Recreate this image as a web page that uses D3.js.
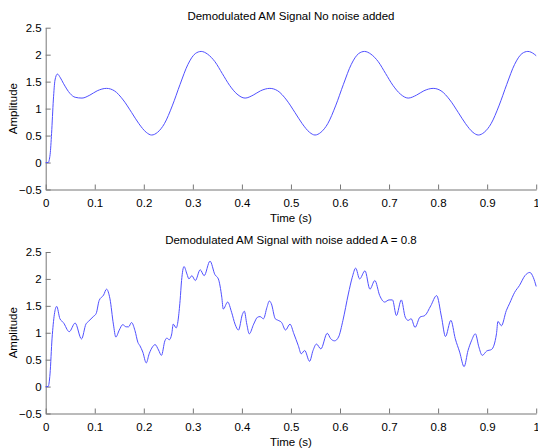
<!DOCTYPE html>
<html>
<head>
<meta charset="utf-8">
<script src="https://cdn.jsdelivr.net/npm/d3@7"></script>
<style>
  body { margin: 0; background: #fff; }
  svg { display: block; font-family: "Liberation Sans", Arial, sans-serif; }
</style>
</head>
<body>
<div id="chart"></div>
<script>
// Values (time in s, amplitude)
const cleanTime = [0, 0.005, 0.009, 0.012, 0.0156, 0.019, 0.0238, 0.03, 0.036, 0.0496, 0.06, 0.074,
  0.09, 0.105, 0.124, 0.14, 0.158, 0.175, 0.19, 0.205, 0.216, 0.228, 0.242, 0.258, 0.274, 0.29, 0.305,
  0.317, 0.33, 0.345, 0.36, 0.375, 0.39, 0.4065, 0.423, 0.438, 0.457, 0.473, 0.491, 0.508, 0.523, 0.538,
  0.549, 0.561, 0.575, 0.591, 0.607, 0.623, 0.638, 0.65, 0.663, 0.678, 0.693, 0.708, 0.723, 0.739,
  0.756, 0.771, 0.79, 0.806, 0.824, 0.841, 0.856, 0.871, 0.882, 0.894, 0.908, 0.924, 0.94, 0.956,
  0.971, 0.983, 0.996, 1.0];
const cleanAmp = [0, 0, 0.15, 0.54, 1.16, 1.53, 1.64, 1.57, 1.47, 1.28, 1.21, 1.195,
  1.25, 1.33, 1.375, 1.33, 1.16, 0.93, 0.72, 0.56, 0.51, 0.56, 0.72, 1.05, 1.45, 1.82, 2.02,
  2.06, 2.01, 1.87, 1.65, 1.43, 1.27, 1.195, 1.25, 1.33, 1.375, 1.33, 1.16, 0.93, 0.72, 0.56,
  0.51, 0.56, 0.72, 1.05, 1.45, 1.82, 2.02, 2.06, 2.01, 1.87, 1.65, 1.43, 1.27, 1.195,
  1.25, 1.33, 1.375, 1.33, 1.16, 0.93, 0.72, 0.56, 0.51, 0.56, 0.72, 1.05, 1.45, 1.82,
  2.02, 2.06, 2.01, 1.98];

const noisyTime = [0, 0.005, 0.0088, 0.013, 0.0224, 0.029, 0.036, 0.048, 0.06, 0.073, 0.082, 0.087,
  0.097, 0.103, 0.109, 0.118, 0.124, 0.131, 0.138, 0.143, 0.15, 0.157, 0.164, 0.169, 0.175, 0.182,
  0.188, 0.192, 0.198, 0.205, 0.211, 0.218, 0.223, 0.23, 0.236, 0.243, 0.247, 0.252, 0.257, 0.26,
  0.266, 0.274, 0.277, 0.282, 0.288, 0.292, 0.298, 0.305, 0.315, 0.323, 0.335, 0.345, 0.352, 0.359,
  0.362, 0.371, 0.379, 0.386, 0.393, 0.401, 0.405, 0.41, 0.415, 0.424, 0.432, 0.437, 0.444, 0.451,
  0.456, 0.46, 0.468, 0.474, 0.481, 0.489, 0.498, 0.506, 0.515, 0.521, 0.528, 0.538, 0.545, 0.552,
  0.561, 0.574, 0.581, 0.589, 0.597, 0.606, 0.617, 0.625, 0.632, 0.64, 0.651, 0.661, 0.671, 0.681,
  0.691, 0.7, 0.707, 0.715, 0.725, 0.733, 0.739, 0.745, 0.753, 0.763, 0.773, 0.785, 0.797, 0.807,
  0.815, 0.826, 0.835, 0.844, 0.853, 0.861, 0.868, 0.876, 0.883, 0.89, 0.899, 0.909, 0.919, 0.922,
  0.929, 0.939, 0.946, 0.956, 0.966, 0.977, 0.987, 0.994, 1.0];
const noisyAmp = [0, 0, 0.235, 0.9, 1.49, 1.26, 1.19, 1.02, 1.18, 0.885, 1.16, 1.21,
  1.30, 1.36, 1.60, 1.70, 1.81, 1.63, 1.16, 0.92, 1.05, 1.15, 1.11, 1.11, 1.19, 1.04,
  0.82, 0.76, 0.64, 0.44, 0.61, 0.74, 0.78, 0.68, 0.58, 0.85, 0.90, 0.87, 0.98, 1.16,
  1.09, 1.60, 1.97, 2.23, 2.09, 2.00, 2.06, 1.97, 2.17, 2.06, 2.33, 2.08, 2.00, 1.66,
  1.44, 1.57, 1.38, 1.16, 1.05, 1.34, 1.40, 1.16, 0.98, 1.16, 1.29, 1.30, 1.26, 1.47,
  1.59, 1.54, 1.26, 1.23, 1.19, 1.05, 1.16, 0.98, 0.76, 0.61, 0.67, 0.47, 0.67, 0.79,
  0.70, 0.99, 0.89, 0.85, 0.92, 1.23, 1.72, 2.03, 2.20, 2.00, 2.15, 1.81, 1.97, 1.69,
  1.57, 1.61, 1.61, 1.32, 1.61, 1.29, 1.23, 1.26, 1.10, 1.29, 1.32, 1.50, 1.69, 1.29,
  0.93, 1.23, 0.89, 0.64, 0.37, 0.67, 0.85, 0.98, 0.74, 0.58, 0.66, 0.69, 0.98, 1.21,
  1.13, 1.41, 1.55, 1.75, 1.88, 2.06, 2.12, 2.03, 1.86];

const xTicks = [0, 0.1, 0.2, 0.3, 0.4, 0.5, 0.6, 0.7, 0.8, 0.9, 1];
const yTicks = [-0.5, 0, 0.5, 1, 1.5, 2, 2.5];

const panels = [
  { title: "Demodulated AM Signal No noise added", t: cleanTime, y: cleanAmp, top: 27.7, bottom: 189.5 },
  { title: "Demodulated AM Signal with noise added A = 0.8", t: noisyTime, y: noisyAmp, top: 252, bottom: 413.5 }
];

const width = 538, height = 448;
const left = 45.7, right = 536.2;
const axisColor = "#777";

const svg = d3.select("#chart").append("svg")
  .attr("width", width)
  .attr("height", height);

panels.forEach(p => {
  const x = d3.scaleLinear().domain([0, 1]).range([left, right]);
  const y = d3.scaleLinear().domain([-0.5, 2.5]).range([p.bottom, p.top]);

  const g = svg.append("g");

  // x axis, ticks pointing inwards
  const xa = g.append("g")
    .attr("transform", `translate(0,${p.bottom})`)
    .call(d3.axisBottom(x).tickValues(xTicks).tickSizeInner(-5).tickSizeOuter(0)
      .tickFormat(d => d3.format("")(d)));
  xa.select(".domain").attr("stroke", axisColor);
  xa.selectAll(".tick line").attr("stroke", axisColor);
  xa.selectAll(".tick text").attr("y", 9).attr("dy", "0.71em")
    .attr("font-size", 11.5).attr("font-family", "Liberation Sans, Arial, sans-serif").attr("fill", "#000");

  // y axis
  const ya = g.append("g")
    .attr("transform", `translate(${left},0)`)
    .call(d3.axisLeft(y).tickValues(yTicks).tickSizeInner(-5).tickSizeOuter(0)
      .tickFormat(d => d3.format("")(d)));
  ya.select(".domain").attr("stroke", axisColor);
  ya.selectAll(".tick line").attr("stroke", axisColor);
  ya.selectAll(".tick text").attr("x", -4)
    .attr("font-size", 11.5).attr("font-family", "Liberation Sans, Arial, sans-serif").attr("fill", "#000");

  // signal line
  const pts = p.t.map((t, i) => [t, p.y[i]]);
  g.append("path")
    .datum(pts)
    .attr("fill", "none")
    .attr("stroke", "#5050ff")
    .attr("stroke-width", 1)
    .attr("d", d3.line().x(d => x(d[0])).y(d => y(d[1])).curve(d3.curveMonotoneX));

  // title
  g.append("text")
    .attr("x", (left + right) / 2)
    .attr("y", p.top - 8)
    .attr("text-anchor", "middle")
    .attr("font-size", 11.5)
    .text(p.title);

  // x label
  g.append("text")
    .attr("x", (left + right) / 2)
    .attr("y", p.bottom + 32)
    .attr("text-anchor", "middle")
    .attr("font-size", 11.5)
    .text("Time (s)");

  // y label
  g.append("text")
    .attr("transform", `translate(17,${(p.top + p.bottom) / 2}) rotate(-90)`)
    .attr("text-anchor", "middle")
    .attr("font-size", 11.5)
    .text("Amplitude");
});
</script>
</body>
</html>
